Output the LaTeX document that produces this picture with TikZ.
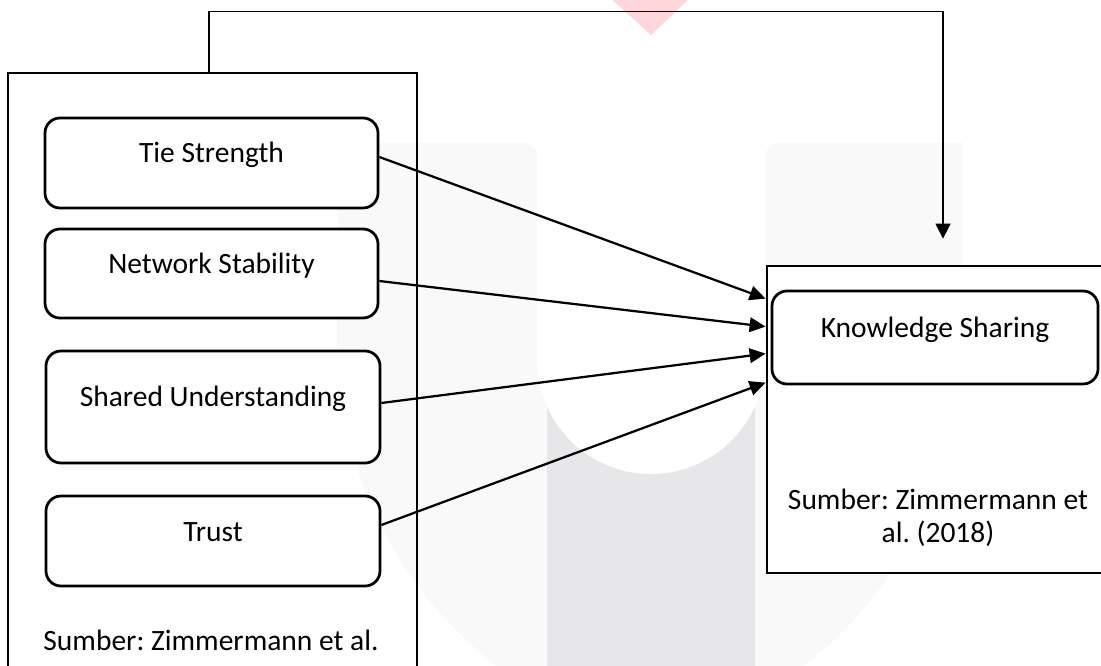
\documentclass[tikz,border=0pt]{standalone}
\usepackage{fontspec}
\setmainfont{Carlito}
\frenchspacing
\usetikzlibrary{arrows.meta, calc, positioning}
\definecolor{wmLight}{HTML}{F9F9F9}
\definecolor{wmDark}{HTML}{E7E7E9}
\definecolor{wmRed}{HTML}{FFD6DB}
\tikzset{
    boxO/.style={draw, line width=1.1pt, inner sep=0pt},
    boxR/.style={draw, fill=white, line width=1.1pt, rounded corners=6pt, inner sep=0pt,
        text height=8pt, text depth=8pt},
    note/.style={align=center, inner sep=0pt},
    arrK/.style={line width=0.9pt, -{Triangle[length=6.4pt,width=5.8pt]}},
    arrT/.style={line width=0.6pt, -{Triangle[length=6pt,width=6pt]}}
}
\begin{document}
\begin{tikzpicture}[x=0.4pt, y=-0.4pt, font=\fontsize{11.8}{13.2}\selectfont]
    \useasboundingbox (0,0) rectangle (1101,666);
    % watermark
    \fill[wmLight] (338,143) -- (523,143) arc[start angle=270, end angle=360, radius=14]
        -- (537,360) arc[start angle=180, end angle=0, radius=114]
        -- (765,157) arc[start angle=180, end angle=270, radius=14]
        -- (963,143) -- (963,340) arc[start angle=0, end angle=76, radius=413]
        arc[start angle=104, end angle=180, radius=413] -- cycle;
    \fill[wmDark] (547,680) -- (547,407) arc[start angle=155.7, end angle=24.3, radius=114]
        -- (755,680) -- cycle;
    \fill[wmRed] (607,-5) -- (693,-5) -- (651,35) -- cycle;
    % left side
    \node[boxO, minimum width=163.6pt, minimum height=250.8pt] (src) at (212.5,386.5) {};
    \node[boxR, minimum width=133.2pt, minimum height=36pt] (tie) at (211.5,163) {Tie Strength};
    \node[boxR, minimum width=133.2pt, minimum height=35.6pt] (net) at (211.5,273.5) {Network Stability};
    \node[boxR, minimum width=133.6pt, minimum height=44.8pt] (shu) at (213,407) {Shared Understanding};
    \node[boxR, minimum width=133.6pt, minimum height=36pt] (tru) at (213,541) {Trust};
    \node[note] (srcnote) at (211,640) {Sumber: Zimmermann et al.};
    % right side
    \node[boxO, fill=white, minimum width=134.4pt, minimum height=122.8pt] (kbox) at (935,419.5) {};
    \node[boxR, minimum width=130.4pt, minimum height=37.2pt] (ks) at (935,337.5) {Knowledge Sharing};
    \node[note] (knote) at (938,518) {Sumber: Zimmermann et\\al. (2018)};
    % arrows
    \draw[arrK] ([yshift=2.4pt]tie.east) -- ([yshift=-13.6pt]kbox.north west);
    \draw[arrK] ([yshift=-3pt]net.east) -- ([yshift=-24.8pt]kbox.north west);
    \draw[arrK] ([yshift=1.6pt]shu.east) -- ([yshift=-35.6pt]kbox.north west);
    \draw[arrK] ([yshift=6.4pt]tru.east) -- ([yshift=-47.2pt]kbox.north west);
    \coordinate (topin) at ([xshift=3.2pt, yshift=10.4pt]kbox.north);
    \draw[arrT] ([xshift=-1.4pt]src.north) -- ++(0,24pt) -| (topin);
\end{tikzpicture}
\end{document}
